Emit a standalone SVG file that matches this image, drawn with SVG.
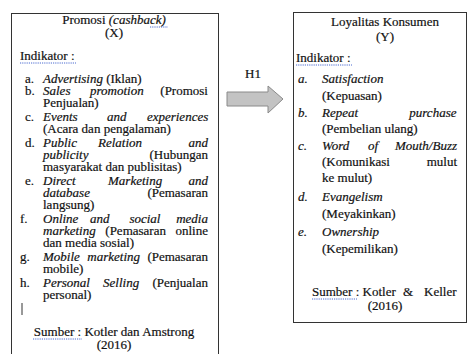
<svg xmlns="http://www.w3.org/2000/svg" width="468" height="354" viewBox="0 0 468 354" font-family="'Liberation Serif', 'DejaVu Serif', serif">
<style>
text{font-family:'Liberation Serif','DejaVu Serif',serif;font-size:13px;fill:#111;stroke:#111;stroke-width:0.2}
.i{font-style:italic}
.c{text-anchor:middle}
.box{fill:#fff;stroke:#333;stroke-width:1}
.sq{stroke:#4a6ad0;stroke-width:1;stroke-dasharray:1.2 1;fill:none}
.arrow{fill:#c3c3c3;stroke:#8a8a8a;stroke-width:1}
</style>
<rect width="468" height="354" fill="#fff"/>
<g id="promosi">
<rect class="box" x="11.5" y="13.5" width="207" height="352"/>
<text class="c" x="114" y="24">Promosi <tspan class="i">(cashback)</tspan></text>
<line class="sq" x1="150" y1="27" x2="168" y2="27"/>
<text class="c" x="114" y="37">(X)</text>
<text x="20" y="60">Indikator :</text>
<line class="sq" x1="20" y1="63" x2="76" y2="63"/>
<text x="25" y="83">a.</text>
<text x="43" y="83"><tspan class="i">Advertising</tspan> (Iklan)</text>
<text x="25" y="95">b.</text>
<text y="95"><tspan class="i" x="43">Sales</tspan><tspan class="i" x="90">promotion</tspan><tspan x="160.3">(Promosi</tspan></text>
<text x="43" y="107">Penjualan)</text>
<text x="25" y="121">c.</text>
<text y="121" class="i"><tspan x="43">Events</tspan><tspan x="107">and</tspan><tspan x="146.9">experiences</tspan></text>
<text x="43" y="133">(Acara dan pengalaman)</text>
<text x="25" y="147">d.</text>
<text y="147" class="i"><tspan x="43">Public</tspan><tspan x="98">Relation</tspan><tspan x="188.5">and</tspan></text>
<text y="159"><tspan class="i" x="43">publicity</tspan><tspan x="149.5">(Hubungan</tspan></text>
<text x="43" y="171">masyarakat dan publisitas)</text>
<text x="25" y="185">e.</text>
<text y="185" class="i"><tspan x="43">Direct</tspan><tspan x="108">Marketing</tspan><tspan x="188.5">and</tspan></text>
<text y="197"><tspan class="i" x="43">database</tspan><tspan x="147.4">(Pemasaran</tspan></text>
<text x="43" y="209">langsung)</text>
<text x="20" y="223">f.</text>
<text y="223" class="i"><tspan x="43">Online</tspan><tspan x="90">and</tspan><tspan x="129.4">social</tspan><tspan x="176.2">media</tspan></text>
<text y="235"><tspan class="i" x="43">marketing</tspan><tspan x="105.3">(Pemasaran</tspan><tspan x="175.5">online</tspan></text>
<text x="43" y="247">dan media sosial)</text>
<text x="20" y="261">g.</text>
<text y="261"><tspan class="i" x="43">Mobile</tspan><tspan class="i" x="87.3">marketing</tspan><tspan x="147.4">(Pemasaran</tspan></text>
<text x="43" y="273">mobile)</text>
<text x="20" y="287">h.</text>
<text y="287"><tspan class="i" x="43">Personal</tspan><tspan class="i" x="103.1">Selling</tspan><tspan x="152.4">(Penjualan</tspan></text>
<text x="43" y="299">personal)</text>
<line x1="22" y1="303" x2="22" y2="315" stroke="#333" stroke-width="1"/>
<text class="c" x="114" y="336">Sumber : Kotler dan Amstrong</text>
<line class="sq" x1="33" y1="339" x2="82" y2="339"/>
<text class="c" x="114" y="349">(2016)</text>
</g>
<g id="loyalitas">
<rect class="box" x="293.5" y="12.5" width="173" height="310"/>
<text class="c" x="385" y="26">Loyalitas Konsumen</text>
<text class="c" x="385" y="41">(Y)</text>
<text x="296" y="62">Indikator :</text>
<line class="sq" x1="296" y1="65" x2="352" y2="65"/>
<text class="i" x="298" y="83">a.</text>
<text class="i" x="322" y="83">Satisfaction</text>
<text x="322" y="100">(Kepuasan)</text>
<text class="i" x="298" y="117">b.</text>
<text class="i" y="117"><tspan x="322">Repeat</tspan><tspan x="409.3">purchase</tspan></text>
<text x="322" y="133">(Pembelian ulang)</text>
<text class="i" x="298" y="150">c.</text>
<text class="i" y="150"><tspan x="322">Word</tspan><tspan x="367.9">of</tspan><tspan x="394.9">Mouth/Buzz</tspan></text>
<text y="166"><tspan x="322">(Komunikasi</tspan><tspan x="426.7">mulut</tspan></text>
<text x="322" y="182">ke mulut)</text>
<text class="i" x="298" y="201">d.</text>
<text class="i" x="322" y="201">Evangelism</text>
<text x="322" y="218">(Meyakinkan)</text>
<text class="i" x="298" y="236">e.</text>
<text class="i" x="322" y="236">Ownership</text>
<text x="322" y="253">(Kepemilikan)</text>
<text y="296"><tspan x="312">Sumber : Kotler</tspan><tspan x="403">&amp;</tspan><tspan x="424">Keller</tspan></text>
<line class="sq" x1="312" y1="299" x2="357" y2="299"/>
<text class="c" x="385" y="310">(2016)</text>
</g>
<g id="connectors">
<polygon class="arrow" points="227,92 268,92 268,86 283,99 268,113 268,106 227,106"/>
<text class="c" x="253" y="78">H1</text>
</g>
</svg>
